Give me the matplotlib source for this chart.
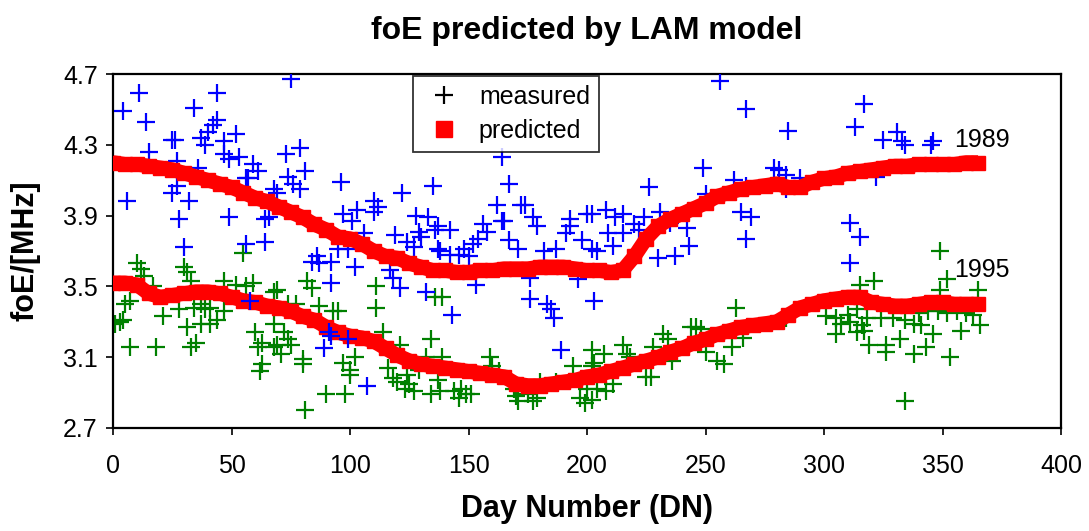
import matplotlib
matplotlib.use("Agg")
import matplotlib.pyplot as plt
from matplotlib.lines import Line2D

plt.rcParams["font.family"] = ["Liberation Sans", "DejaVu Sans"]

# Predicted foE (LAM model), sampled every 5 days
pred_day = list(range(0, 366, 5))
pred_1989 = [
    4.20, 4.19, 4.19, 4.18, 4.17, 4.16, 4.14, 4.12, 4.10, 4.08,
    4.06, 4.03, 4.00, 3.98, 3.95, 3.92, 3.89, 3.85, 3.82, 3.78,
    3.77, 3.74, 3.70, 3.67, 3.66, 3.63, 3.61, 3.59, 3.59, 3.58,
    3.58, 3.59, 3.59, 3.60, 3.60, 3.60, 3.61, 3.61, 3.61, 3.60,
    3.59, 3.59, 3.58, 3.59, 3.67, 3.77, 3.84, 3.88, 3.91, 3.94,
    3.97, 4.01, 4.03, 4.05, 4.06, 4.07, 4.08, 4.06, 4.06, 4.09,
    4.11, 4.12, 4.14, 4.15, 4.16, 4.17, 4.18, 4.18, 4.19, 4.19,
    4.19, 4.19, 4.20, 4.20,
]
pred_1995 = [
    3.52, 3.52, 3.51, 3.46, 3.44, 3.45, 3.46, 3.47, 3.47, 3.46,
    3.44, 3.42, 3.41, 3.39, 3.38, 3.36, 3.33, 3.31, 3.27, 3.24,
    3.22, 3.21, 3.19, 3.15, 3.11, 3.08, 3.06, 3.05, 3.04, 3.03,
    3.02, 3.01, 3.00, 2.99, 2.95, 2.94, 2.94, 2.95, 2.96, 2.97,
    2.99, 3.00, 3.02, 3.04, 3.06, 3.08, 3.10, 3.13, 3.15, 3.18,
    3.20, 3.23, 3.25, 3.27, 3.28, 3.29, 3.30, 3.34, 3.38, 3.40,
    3.42, 3.43, 3.44, 3.44, 3.41, 3.40, 3.39, 3.39, 3.40, 3.41,
    3.41, 3.40, 3.40, 3.40,
]

# Measured foE, 1989
meas_1989_day = [
    11, 44, 4, 14, 34, 44, 42, 40, 37, 39, 25, 26, 15, 47, 52, 47, 49, 53, 59, 61,
    56, 57, 36, 27, 25, 32, 6, 28, 49, 64, 66, 30, 56, 64, 68, 27, 58,
    75, 73, 79, 81, 74, 76, 79, 69, 96, 110, 112, 110, 122, 135, 97, 103, 101, 106,
    119, 128, 133, 129, 130, 124, 127, 136, 137, 95, 99, 86, 84, 87, 92, 102, 92,
    117, 118, 121, 132, 91, 89, 99, 107, 92,
    164, 167, 162, 164, 165, 172, 174, 177, 179, 156, 154, 152, 167, 171, 182, 187,
    193, 193, 191, 200, 198, 202, 142, 137, 138, 142, 146, 150, 153, 176, 176, 183,
    185, 186, 143, 196, 203, 189, 158, 148,
    256, 267, 249, 262, 267, 226, 250, 202, 208, 212, 215, 209, 215, 220, 222, 224,
    231, 235, 242, 243, 237, 230, 211, 204, 265, 269, 267,
    317, 285, 313, 325, 331, 333, 334, 279, 281, 284, 290, 284, 322, 311, 315, 311,
    346, 345,
]
meas_1989_foe = [
    4.59, 4.59, 4.49, 4.43, 4.51, 4.44, 4.41, 4.37, 4.34, 4.30, 4.33, 4.33, 4.26, 4.32, 4.36, 4.25, 4.22, 4.23, 4.19, 4.15,
    4.11, 4.11, 4.17, 4.07, 4.03, 3.98, 3.98, 3.88, 3.89, 3.88, 3.89, 3.72, 3.74, 3.75, 4.05, 4.21, 3.42,
    4.67, 4.25, 4.28, 4.15, 4.12, 4.08, 4.05, 4.03, 4.09, 3.98, 3.95, 3.92, 4.03, 4.07, 3.91, 3.93, 3.87, 3.80,
    3.79, 3.90, 3.89, 3.81, 3.78, 3.75, 3.72, 3.82, 3.71, 3.71, 3.71, 3.67, 3.64, 3.63, 3.64, 3.61, 3.52,
    3.59, 3.55, 3.49, 3.47, 3.24, 3.15, 3.20, 2.94, 3.22,
    4.23, 4.08, 3.96, 3.87, 3.87, 3.96, 3.96, 3.89, 3.84, 3.85, 3.77, 3.74, 3.76, 3.71, 3.70, 3.71,
    3.88, 3.84, 3.80, 3.91, 3.76, 3.71, 3.82, 3.84, 3.70, 3.68, 3.68, 3.67, 3.51, 3.55, 3.43, 3.40,
    3.37, 3.32, 3.34, 3.54, 3.42, 3.14, 3.81, 3.71,
    4.66, 4.50, 4.17, 4.10, 4.07, 4.06, 4.02, 3.91, 3.93, 3.89, 3.91, 3.80, 3.80, 3.85, 3.82, 3.89,
    3.92, 3.86, 3.83, 3.73, 3.67, 3.66, 3.73, 3.70, 3.92, 3.89, 3.77,
    4.53, 4.38, 4.40, 4.33, 4.37, 4.32, 4.30, 4.17, 4.16, 4.13, 4.11, 4.05, 4.12, 3.86, 3.78, 3.63,
    4.32, 4.30,
]

# Measured foE, 1995
meas_1995_day = [
    10, 12, 13, 30, 31, 33, 55, 47, 52, 56, 59, 68, 5, 7, 17, 3, 1, 4, 7, 18,
    33, 35, 21, 28, 31, 34, 37, 39, 41, 37, 41, 44, 47, 60, 61, 63, 68, 63, 62, 68,
    69, 82, 84, 74, 77, 87, 93, 95, 111, 111, 114, 121, 134, 72, 74, 75, 69, 71, 80, 80,
    81, 90, 98, 97, 100, 100, 102, 116, 118, 120, 124, 125, 127, 123, 134, 132, 129, 136,
    139, 139, 137, 138, 144, 147, 149, 151, 146, 159, 160, 163, 170, 171, 175, 177, 179,
    169, 180, 187, 194, 197, 199, 200, 203, 202,
    202, 204, 208, 207, 211, 215, 217, 218, 225, 227, 228, 232, 234, 236, 244, 246, 248,
    250, 255, 258, 261, 263, 266, 202,
    284, 315, 321, 301, 305, 307, 310, 311, 314, 316, 318, 305, 314, 317, 319, 326, 326,
    332, 338, 334, 324, 329, 334,
    349, 352, 349, 365, 338, 341, 346, 343, 358, 366, 353, 363, 348, 352, 356, 360, 340, 344,
]
meas_1995_foe = [
    3.63, 3.60, 3.56, 3.61, 3.58, 3.53, 3.69, 3.53, 3.51, 3.50, 3.52, 3.47, 3.40, 3.42, 3.50, 3.30, 3.29, 3.31, 3.16, 3.16,
    3.16, 3.18, 3.33, 3.37, 3.27, 3.38, 3.40, 3.37, 3.38, 3.29, 3.29, 3.31, 3.36, 3.24, 3.16, 3.18, 3.16, 3.06, 3.02, 3.29,
    3.48, 3.53, 3.49, 3.40, 3.40, 3.39, 3.36, 3.36, 3.50, 3.38, 3.24, 3.17, 3.20, 3.24, 3.20, 3.17, 3.17, 3.12, 3.09, 3.06,
    2.80, 2.89, 2.89, 3.07, 3.03, 3.00, 3.10, 3.04, 2.98, 2.96, 3.00, 2.95, 2.91, 2.92, 2.89, 3.10, 3.03, 3.44,
    3.44, 3.10, 2.97, 2.91, 2.91, 2.92, 2.89, 2.89, 2.87, 3.10, 3.05, 3.02, 2.88, 2.85, 2.89, 2.85, 2.87,
    2.92, 2.96, 2.96, 3.05, 2.87, 2.84, 2.92, 3.07, 3.14,
    2.86, 2.92, 2.91, 3.12, 2.95, 3.17, 3.12, 3.10, 2.99, 2.99, 3.16, 3.23, 3.20, 3.08, 3.27, 3.27, 3.26,
    3.13, 3.08, 3.06, 3.16, 3.38, 3.21, 3.05,
    3.32, 3.51, 3.53, 3.33, 3.32, 3.29, 3.34, 3.30, 3.37, 3.28, 3.32, 3.23, 3.24, 3.25, 3.17, 3.17, 3.13,
    3.20, 3.12, 2.85, 3.32, 3.32, 3.31,
    3.70, 3.54, 3.48, 3.48, 3.29, 3.28, 3.23, 3.16, 3.25, 3.28, 3.10, 3.34, 3.36, 3.35, 3.36, 3.35, 3.35, 3.36,
]

x_ticks = [0, 50, 100, 150, 200, 250, 300, 350, 400]
y_ticks = [2.7, 3.1, 3.5, 3.9, 4.3, 4.7]

fig = plt.figure(figsize=(10.89, 5.31), dpi=100)
ax = fig.add_axes([0.1038, 0.194, 0.8705, 0.6666])

plus_kw = dict(linestyle="none", marker="+", markersize=13, markeredgewidth=1.6)
band_kw = dict(color="#ff0000", linewidth=10.5, marker="s", markersize=10.5,
               solid_capstyle="butt")

ax.plot(meas_1995_day, meas_1995_foe, color="#008000", zorder=2, **plus_kw)
ax.plot(pred_day, pred_1995, zorder=3, **band_kw)
ax.plot(meas_1989_day, meas_1989_foe, color="#0000ff", zorder=4, **plus_kw)
ax.plot(pred_day, pred_1989, zorder=5, **band_kw)

ax.text(355, 4.33, "1989", fontsize=18, ha="left", va="center")
ax.text(355, 3.59, "1995", fontsize=18, ha="left", va="center")

ax.set_xlim(0, 400)
ax.set_ylim(2.7, 4.7)
ax.set_xticks(x_ticks)
ax.set_yticks(y_ticks)
ax.set_yticklabels([f"{v:.1f}" for v in y_ticks])
ax.tick_params(direction="out", length=5, width=1.2, labelsize=18)
ax.tick_params(axis="x", pad=14)
ax.tick_params(axis="y", pad=6)
for sp in ax.spines.values():
    sp.set_linewidth(1.6)

ax.set_title("foE predicted by LAM model", fontsize=23, fontweight="bold", pad=25)
ax.set_xlabel("Day Number (DN)", fontsize=22, fontweight="bold", labelpad=11)
ax.set_ylabel("foE/[MHz]", fontsize=22, fontweight="bold", labelpad=16)

handles = [
    Line2D([], [], color="black", **plus_kw),
    Line2D([], [], color="#ff0000", linestyle="none", marker="s", markersize=11),
]
leg = ax.legend(handles, ["measured", "predicted"], loc="upper left",
                bbox_to_anchor=(0.316, 0.994), borderaxespad=0, fontsize=18,
                frameon=True, fancybox=False, edgecolor="black", borderpad=0.35,
                handletextpad=0.5, labelspacing=0.4, handlelength=1.8)
leg.get_frame().set_linewidth(1.3)

fig.savefig("out.png", dpi=100)
